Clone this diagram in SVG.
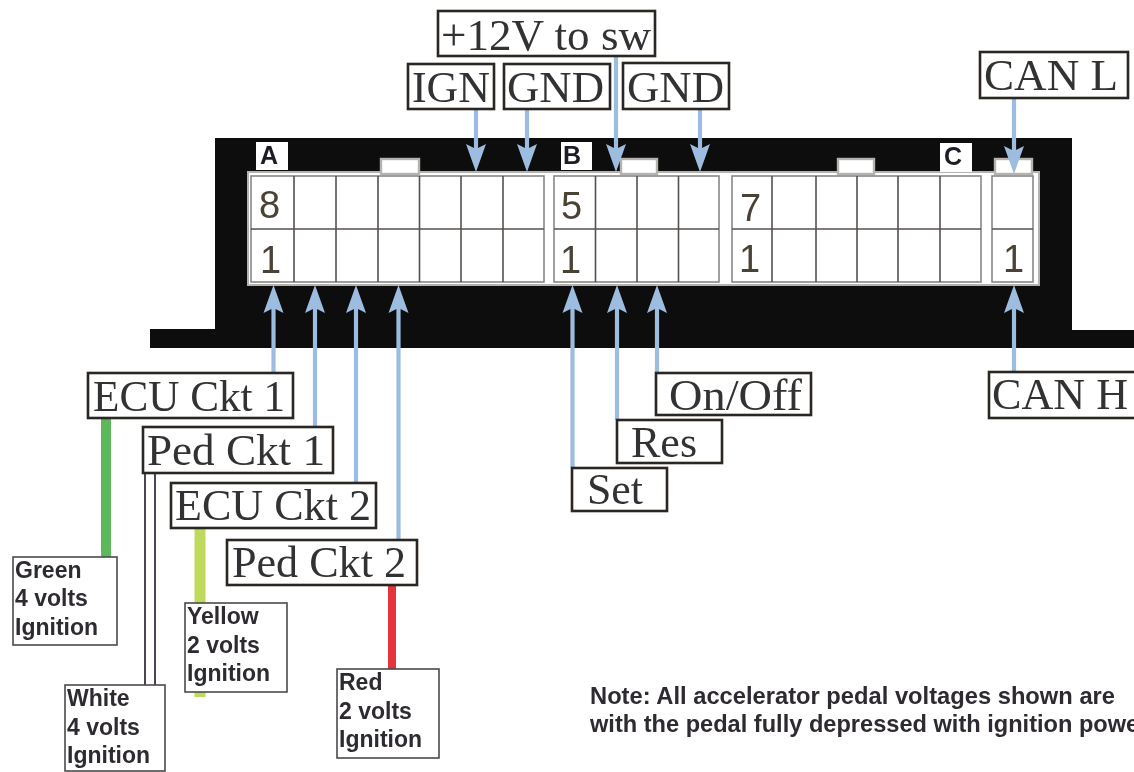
<svg xmlns="http://www.w3.org/2000/svg" width="1134" height="772" viewBox="0 0 1134 772">
<style>
.lb{fill:#fff;stroke:#2a2524;stroke-width:2.6}
.sf{font-family:"Liberation Serif","Times New Roman",serif;font-size:45px;fill:#333}
.nb{fill:#fff;stroke:#4a4a4a;stroke-width:1.6}
.bd{font-family:"Liberation Sans",Arial,sans-serif;font-weight:700;font-size:23px;fill:#2e2a30}
.nt{font-size:23.600px}
.gl{fill:none;stroke:#8a8886;stroke-width:1.6}
.gd{fill:none;stroke:#55514f;stroke-width:1.6}
.tab{fill:#fff;stroke:#b5b3b1;stroke-width:2.400}
.num{font-family:"Liberation Sans",Arial,sans-serif;font-size:38px;fill:#4a4236}
.ltr{font-family:"Liberation Sans",Arial,sans-serif;font-weight:700;font-size:25px;fill:#1c1a28}
.arr{stroke:#9dbde0;stroke-width:4.2;fill:none}
.head{fill:#9dbde0;stroke:none}
</style>
<defs>
<filter id="soft" x="-2%" y="-2%" width="104%" height="104%"><feGaussianBlur stdDeviation="0.45"/></filter>
<path id="hd" class="head" d="M0 0L-10 -28L0 -23L10 -28Z"/>
</defs>
<rect width="1134" height="772" fill="#fff"/>
<g filter="url(#soft)">
<g id="connector-body">
<path d="M215 138H1072V330H1134V348H150V329H215Z" fill="#100c0c"/>
<rect x="248" y="172" width="791" height="113" fill="#fff" stroke="#b5b3b1" stroke-width="2"/>
<rect class="tab" x="381" y="159" width="38" height="15"/>
<rect class="tab" x="621" y="159" width="36" height="15"/>
<rect class="tab" x="838" y="159" width="36" height="15"/>
<rect class="tab" x="995" y="159" width="37" height="15"/>
</g>
<g id="block-a">
<rect class="gl" x="251" y="176" width="293" height="106"/>
<path class="gd" d="M251 229H544M294 176V282M336 176V282M378 176V282M419.500 176V282M461 176V282M503 176V282"/>
<rect x="256" y="142" width="32" height="28" fill="#fff"/>
<text class="ltr" x="260" y="164">A</text>
<text class="num" x="259" y="218">8</text>
<text class="num" x="260" y="273">1</text>
</g>
<g id="block-b">
<rect class="gl" x="554" y="176" width="165" height="106"/>
<path class="gd" d="M554 229H719M595.500 176V282M637 176V282M678.500 176V282"/>
<rect x="561" y="142" width="31" height="28" fill="#fff"/>
<text class="ltr" x="563" y="164">B</text>
<text class="num" x="561" y="219">5</text>
<text class="num" x="560" y="273">1</text>
</g>
<g id="block-c">
<rect class="gl" x="732" y="176" width="249" height="106"/>
<path class="gd" d="M732 229H981M772 176V282M816 176V282M857 176V282M898 176V282M940 176V282"/>
<rect x="940" y="143" width="32" height="29" fill="#fff"/>
<text class="ltr" x="944" y="165">C</text>
<text class="num" x="740" y="221">7</text>
<text class="num" x="739" y="272">1</text>
</g>
<g id="block-d">
<rect class="gl" x="992" y="176" width="41" height="106"/>
<path class="gd" d="M992 229H1033"/>
<text class="num" x="1003" y="272">1</text>
</g>
<g id="connectors">
<path d="M106 418V557" stroke="#5cb85a" stroke-width="10" fill="none"/>
<path d="M200 528V697" stroke="#bfd95c" stroke-width="11" fill="none"/>
<path d="M392 586V669" stroke="#e5343a" stroke-width="8" fill="none"/>
<path d="M145 473V685M155 473V685" stroke="#3a3040" stroke-width="1.800" fill="none"/>
<path class="arr" d="M476 110V152M527 110V152M616 57V152M700 110V152M1014 98V152"/>
<path class="arr" d="M273.500 373V305M315 427V305M356 482V305M398.500 539V305M572.500 468V305M617 420V305M657 373V305M1014 372V305"/>
<use href="#hd" x="476" y="172"/>
<use href="#hd" x="527" y="172"/>
<use href="#hd" x="616" y="172"/>
<use href="#hd" x="700" y="172"/>
<use href="#hd" x="1014" y="174"/>
<use href="#hd" transform="translate(273.500 285) scale(1 -1)"/>
<use href="#hd" transform="translate(315 285) scale(1 -1)"/>
<use href="#hd" transform="translate(356 285) scale(1 -1)"/>
<use href="#hd" transform="translate(398.500 285) scale(1 -1)"/>
<use href="#hd" transform="translate(572.500 285) scale(1 -1)"/>
<use href="#hd" transform="translate(617 285) scale(1 -1)"/>
<use href="#hd" transform="translate(657 285) scale(1 -1)"/>
<use href="#hd" transform="translate(1014 285) scale(1 -1)"/>
</g>
<g id="n-12v"><rect class="lb" x="438" y="11" width="217" height="45"/><text class="sf" x="441" y="50" textLength="210" lengthAdjust="spacingAndGlyphs">+12V to sw</text></g>
<g id="n-ign"><rect class="lb" x="408" y="64" width="86" height="45"/><text class="sf" x="412" y="102" textLength="78" lengthAdjust="spacingAndGlyphs">IGN</text></g>
<g id="n-gnd1"><rect class="lb" x="504" y="64" width="106" height="45"/><text class="sf" x="507" y="102" textLength="97" lengthAdjust="spacingAndGlyphs">GND</text></g>
<g id="n-gnd2"><rect class="lb" x="623" y="63" width="106" height="46"/><text class="sf" x="627" y="102" textLength="97" lengthAdjust="spacingAndGlyphs">GND</text></g>
<g id="n-canl"><rect class="lb" x="980" y="52" width="148" height="46"/><text class="sf" x="984" y="90" textLength="134" lengthAdjust="spacingAndGlyphs">CAN L</text></g>
<g id="n-canh"><rect class="lb" x="989" y="372" width="150" height="46"/><text class="sf" x="992" y="409" textLength="136" lengthAdjust="spacingAndGlyphs">CAN H</text></g>
<g id="n-onoff"><rect class="lb" x="656" y="373" width="155" height="42"/><text class="sf" x="669" y="410" textLength="133" lengthAdjust="spacingAndGlyphs">On/Off</text></g>
<g id="n-res"><rect class="lb" x="617" y="420" width="105" height="43"/><text class="sf" x="631" y="457" textLength="66" lengthAdjust="spacingAndGlyphs">Res</text></g>
<g id="n-set"><rect class="lb" x="572" y="468" width="95" height="43"/><text class="sf" x="587" y="504" textLength="56" lengthAdjust="spacingAndGlyphs">Set</text></g>
<g id="n-ecu1"><rect class="lb" x="88" y="373" width="205" height="45"/><text class="sf" x="93" y="411" textLength="192" lengthAdjust="spacingAndGlyphs">ECU Ckt 1</text></g>
<g id="n-ped1"><rect class="lb" x="143" y="427" width="190" height="46"/><text class="sf" x="147" y="465" textLength="178" lengthAdjust="spacingAndGlyphs">Ped Ckt 1</text></g>
<g id="n-ecu2"><rect class="lb" x="171" y="483" width="205" height="45"/><text class="sf" x="175" y="520" textLength="196" lengthAdjust="spacingAndGlyphs">ECU Ckt 2</text></g>
<g id="n-ped2"><rect class="lb" x="227" y="540" width="190" height="45"/><text class="sf" x="232" y="577" textLength="174" lengthAdjust="spacingAndGlyphs">Ped Ckt 2</text></g>
<g id="n-green"><rect class="nb" x="13" y="557" width="104" height="88"/><text class="bd"><tspan x="15" y="578">Green</tspan><tspan x="15" y="606">4 volts</tspan><tspan x="15" y="635">Ignition</tspan></text></g>
<g id="n-white"><rect class="nb" x="65" y="685" width="100" height="86"/><text class="bd"><tspan x="67" y="706">White</tspan><tspan x="67" y="735">4 volts</tspan><tspan x="67" y="763">Ignition</tspan></text></g>
<g id="n-yellow"><rect class="nb" x="185" y="603" width="102" height="89"/><text class="bd"><tspan x="187" y="624">Yellow</tspan><tspan x="187" y="653">2 volts</tspan><tspan x="187" y="681">Ignition</tspan></text></g>
<g id="n-red"><rect class="nb" x="337" y="669" width="102" height="89"/><text class="bd"><tspan x="339" y="690">Red</tspan><tspan x="339" y="719">2 volts</tspan><tspan x="339" y="747">Ignition</tspan></text></g>
<g id="note"><text class="bd nt" x="590" y="704" textLength="525" lengthAdjust="spacingAndGlyphs">Note: All accelerator pedal voltages shown are</text><text class="bd nt" x="590" y="732">with the pedal fully depressed with ignition powe</text></g>
</g>
</svg>
